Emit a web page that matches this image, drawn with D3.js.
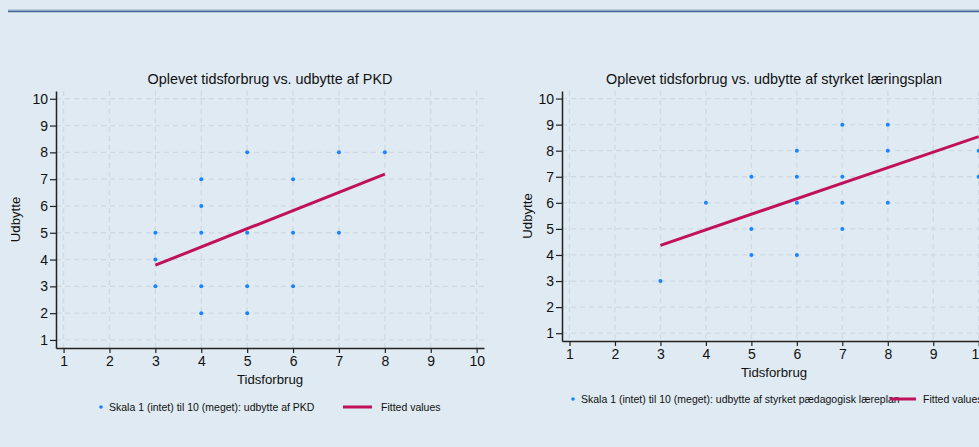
<!DOCTYPE html>
<html>
<head>
<meta charset="utf-8">
<script src="https://cdn.jsdelivr.net/npm/d3@7"></script>
<style>
  body { margin: 0; background: #dfeaf2; }
  svg { display: block; font-family: "Liberation Sans", Arial, sans-serif; }
</style>
</head>
<body>
<svg id="chart"></svg>
<script>
// data
const ticks = [1, 2, 3, 4, 5, 6, 7, 8, 9, 10];

const pkdX = [3, 3, 3, 4, 4, 4, 4, 4, 5, 5, 5, 5, 6, 6, 6, 7, 7, 8];
const pkdY = [5, 4, 3, 7, 6, 5, 3, 2, 8, 5, 3, 2, 7, 5, 3, 8, 5, 8];
const pkdFitX = [3, 8];
const pkdFitY = [3.79, 7.19];

const planX = [3, 4, 5, 5, 5, 6, 6, 6, 6, 7, 7, 7, 7, 8, 8, 8, 10, 10];
const planY = [3, 6, 7, 5, 4, 8, 7, 6, 4, 9, 7, 6, 5, 9, 8, 6, 8, 7];
const planFitX = [3, 10];
const planFitY = [4.37, 8.54];

const panels = [
  {
    title: "Oplevet tidsforbrug vs. udbytte af PKD",
    xs: pkdX, ys: pkdY, fx: pkdFitX, fy: pkdFitY,
    legend: "Skala 1 (intet) til 10 (meget): udbytte af PKD",
    left: 56, right: 484, top: 91, bottom: 348, ylab: 16,
    legY: 407, legDot: 101, legLine: [343, 372], legFit: 381
  },
  {
    title: "Oplevet tidsforbrug vs. udbytte af styrket læringsplan",
    xs: planX, ys: planY, fx: planFitX, fy: planFitY,
    legend: "Skala 1 (intet) til 10 (meget): udbytte af styrket pædagogisk læreplan",
    left: 562, right: 986, top: 91, bottom: 341, ylab: 528,
    legY: 399, legDot: 573, legLine: [890, 916], legFit: 923
  }
];

const svg = d3.select("#chart")
  .attr("width", 979)
  .attr("height", 447);

// top rule
svg.append("line")
  .attr("x1", 8).attr("x2", 979)
  .attr("y1", 11).attr("y2", 11)
  .attr("stroke", "#93aac2").attr("stroke-width", 3);
svg.append("line")
  .attr("x1", 8).attr("x2", 979)
  .attr("y1", 11.5).attr("y2", 11.5)
  .attr("stroke", "#46699a").attr("stroke-width", 1.2);

panels.forEach(p => {
  const g = svg.append("g");

  const x = d3.scaleLinear()
    .domain([0.835, 10.16])
    .range([p.left, p.right]);

  const y = d3.scaleLinear()
    .domain([0.7, 10.29])
    .range([p.bottom, p.top]);

  // grid
  g.append("g").selectAll("line")
    .data(ticks)
    .join("line")
    .attr("x1", d => x(d)).attr("x2", d => x(d))
    .attr("y1", p.top).attr("y2", p.bottom)
    .attr("stroke", "#cfd9e3").attr("stroke-width", 1.3)
    .attr("stroke-dasharray", "5,4");

  g.append("g").selectAll("line")
    .data(ticks)
    .join("line")
    .attr("x1", p.left).attr("x2", p.right)
    .attr("y1", d => y(d)).attr("y2", d => y(d))
    .attr("stroke", "#cfd9e3").attr("stroke-width", 1.3)
    .attr("stroke-dasharray", "5,4");

  // axes
  const xAxis = g.append("g")
    .attr("transform", `translate(0,${p.bottom})`)
    .call(d3.axisBottom(x).tickValues(ticks).tickSize(5).tickPadding(3).tickSizeOuter(0));

  const yAxis = g.append("g")
    .attr("transform", `translate(${p.left},0)`)
    .call(d3.axisLeft(y).tickValues(ticks).tickSize(6).tickPadding(2).tickSizeOuter(0));

  [xAxis, yAxis].forEach(a => {
    a.select(".domain").attr("stroke", "#222").attr("stroke-width", 1.5);
    a.selectAll(".tick line").attr("stroke", "#222").attr("stroke-width", 1.2);
    a.selectAll("text")
      .attr("font-family", "Liberation Sans, Arial, sans-serif")
      .attr("font-size", 14)
      .attr("fill", "#111");
  });

  // points
  g.append("g").selectAll("circle")
    .data(p.xs.map((d, i) => [d, p.ys[i]]))
    .join("circle")
    .attr("cx", d => x(d[0]))
    .attr("cy", d => y(d[1]))
    .attr("r", 2)
    .attr("fill", "#1a84ff");

  // fitted line
  g.append("path")
    .datum(p.fx.map((d, i) => [d, p.fy[i]]))
    .attr("fill", "none")
    .attr("stroke", "#c0115a")
    .attr("stroke-width", 3)
    .attr("d", d3.line().x(d => x(d[0])).y(d => y(d[1])));

  const cx = (p.left + p.right) / 2;

  g.append("text")
    .attr("x", cx).attr("y", 84)
    .attr("text-anchor", "middle")
    .attr("font-size", 14.4)
    .attr("fill", "#111")
    .text(p.title);

  g.append("text")
    .attr("x", cx).attr("y", p.bottom + 36)
    .attr("text-anchor", "middle")
    .attr("font-size", 13.2)
    .attr("fill", "#111")
    .text("Tidsforbrug");

  g.append("text")
    .attr("transform", `translate(${p.ylab + 4},${(p.top + p.bottom) / 2}) rotate(-90)`)
    .attr("text-anchor", "middle")
    .attr("font-size", 13.2)
    .attr("fill", "#111")
    .text("Udbytte");

  // legend
  const leg = g.append("g");
  leg.append("circle")
    .attr("cx", p.legDot).attr("cy", p.legY)
    .attr("r", 1.8).attr("fill", "#1a84ff");
  leg.append("text")
    .attr("x", p.legDot + 8).attr("y", p.legY + 3.5)
    .attr("font-size", 10.5).attr("fill", "#111")
    .text(p.legend);
  leg.append("line")
    .attr("x1", p.legLine[0]).attr("x2", p.legLine[1])
    .attr("y1", p.legY).attr("y2", p.legY)
    .attr("stroke", "#c0115a").attr("stroke-width", 3);
  leg.append("text")
    .attr("x", p.legFit).attr("y", p.legY + 3.5)
    .attr("font-size", 10.5).attr("fill", "#111")
    .text("Fitted values");
});
</script>
</body>
</html>
